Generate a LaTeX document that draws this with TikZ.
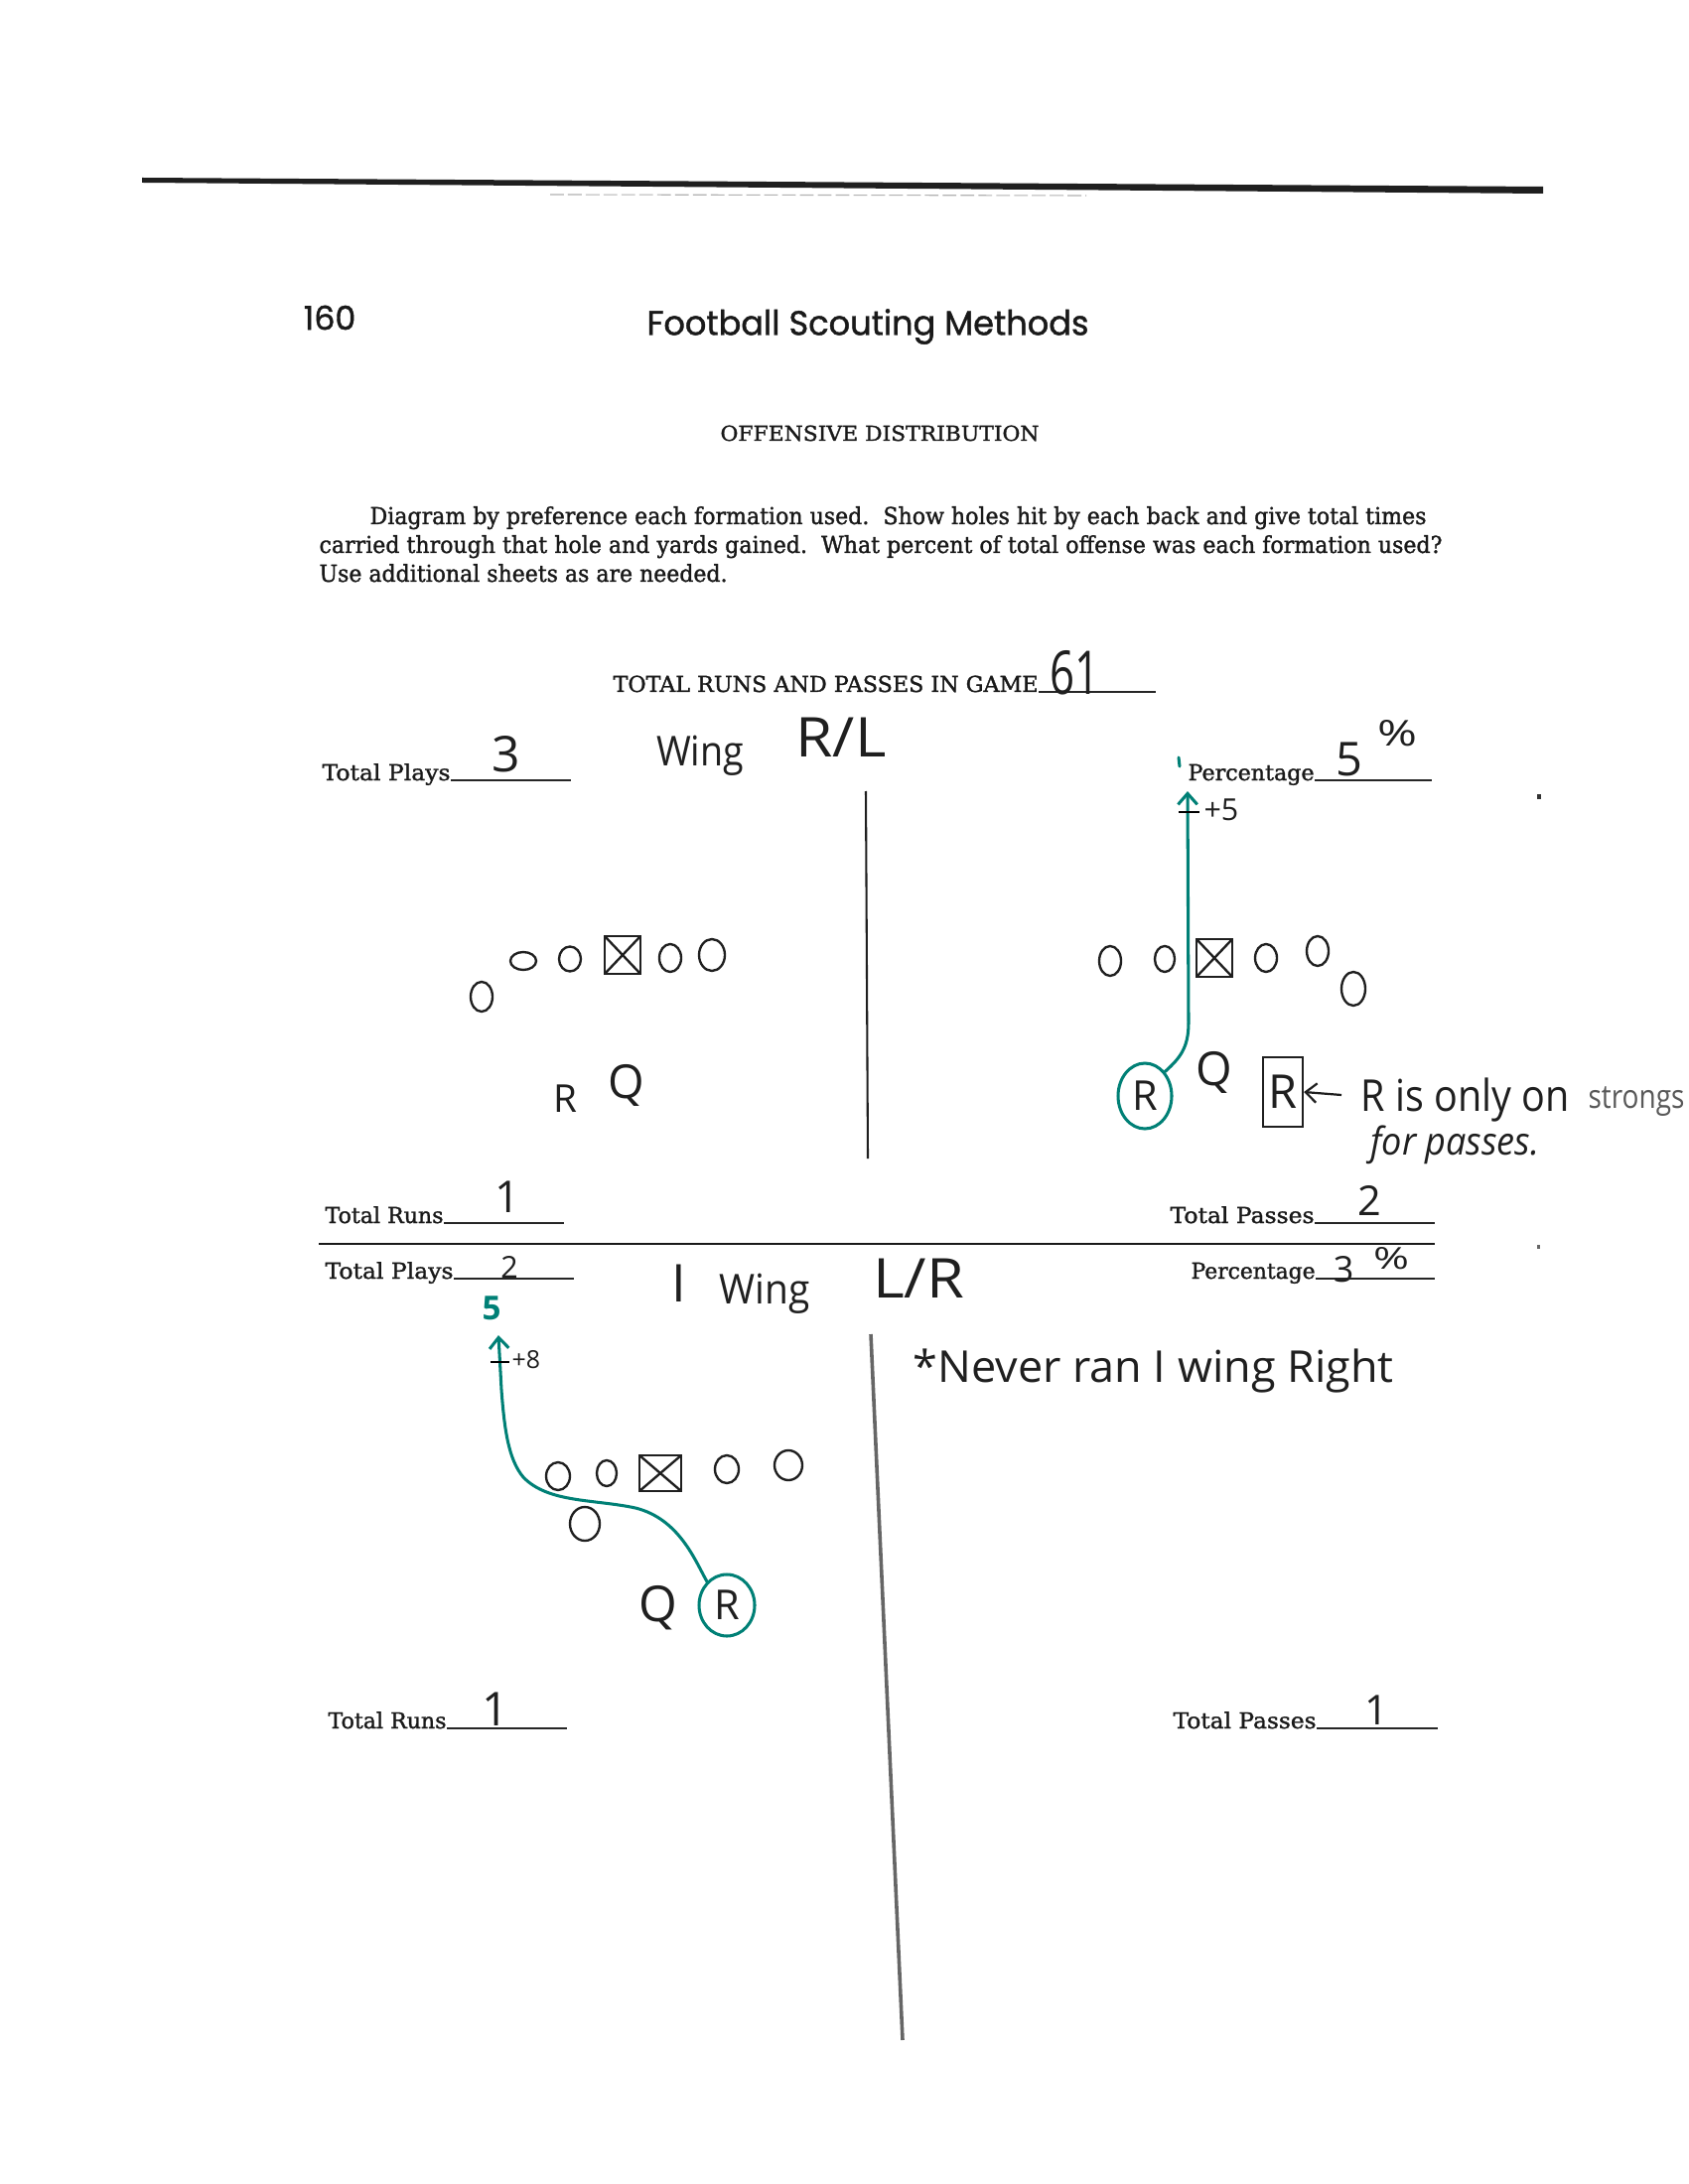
\documentclass[tikz,border=0pt]{standalone}
\usepackage{fontspec}
\usepackage{graphicx}
\usetikzlibrary{shapes.geometric,arrows.meta}
\setmainfont[FakeBold=1.3]{DejaVu Serif}
\newfontfamily\headfont[FakeBold=1.2]{Poppins}
\newfontfamily\hwfont{Open Sans}
\newlength\pxu \setlength\pxu{0.005in}
\newcommand\fitw[2]{\resizebox{#1\pxu}{\height}{#2}}
\newcommand\fsz[1]{\fontsize{#1}{#1}\selectfont}
\definecolor{teal2}{RGB}{0,128,118}
\definecolor{ink}{gray}{0.12}
\begin{document}
\begin{tikzpicture}[x=0.005in,y=-0.005in,
  pr/.style={inner sep=0pt, text=black!90},
  hw/.style={inner sep=0pt, text=ink},
  pl/.style 2 args={ellipse, draw=ink, line width=0.85pt, inner sep=0pt, minimum width=#1\pxu, minimum height=#2\pxu},
  ctr/.style 2 args={rectangle, draw=ink, line width=0.85pt, inner sep=0pt, minimum width=#1\pxu, minimum height=#2\pxu,
    path picture={\draw[ink, line width=0.85pt] (path picture bounding box.north west) -- (path picture bounding box.south east)
      (path picture bounding box.north east) -- (path picture bounding box.south west);}},
  route/.style={draw=teal2, line width=1.1pt, line cap=round},
  uline/.style={draw=black!85, line width=0.5pt},
  tip/.style={-{Straight Barb[length=4pt, width=7pt]}}
]
\fill[white] (0,0) rectangle (1700,2200);
\useasboundingbox (0,0) rectangle (1700,2200);
\clip (0,0) rectangle (1700,2200);

% header rule
\fill[black!88] (143,179) -- (1554,188) -- (1554,195) -- (143,184) -- cycle;
\draw[black!30, line width=0.4pt, dash pattern=on 5pt off 1.5pt] (554,196) -- (1094,197);

\node[pr, font=\headfont\fsz{12}] (pnum) at (332,320) {160};
\node[pr, font=\headfont\fsz{12.5}] (title) at (874,329) {\fitw{445}{Football Scouting Methods}};

\node[pr, font=\fsz{7.5}, anchor=base] (hd) at (886,444) {\fitw{321}{OFFENSIVE DISTRIBUTION}};

\node[pr, font=\fsz{8.5}, anchor=base west] (p1) at (372,528) {\fitw{1064}{Diagram by preference each formation used.\ \ Show holes hit by each back and give total times}};
\node[pr, font=\fsz{8.5}, anchor=base west] (p2) at (321,557) {\fitw{1131}{carried through that hole and yards gained.\ \ What percent of total offense was each formation used?}};
\node[pr, font=\fsz{8.5}, anchor=base west] (p3) at (321,586) {\fitw{411}{Use additional sheets as are needed.}};

\node[pr, font=\fsz{8}, anchor=base west] (trp) at (617,697) {\fitw{428}{TOTAL RUNS AND PASSES IN GAME}};
\coordinate (trpend) at (1164,697);
\draw[uline] (trp.base east) -- (trpend);
\node[hw, font=\hwfont\fsz{22}] (n61) at (1082,678) {\fitw{50}{61}};

% ---------- upper section ----------
\node[pr, font=\fsz{8}, anchor=base west] (tp1) at (324,786) {\fitw{129}{Total Plays}};
\coordinate (tp1e) at (575,786);
\draw[uline] (tp1.base east) -- (tp1e);
\node[hw, font=\hwfont\fsz{18}] (tp1v) at (510,760) {3};
\node[hw, font=\hwfont\fsz{15}] (wing1) at (705,761) {\fitw{88}{Wing}};
\node[hw, font=\hwfont\fsz{20}] (rl1) at (847,743) {\fitw{91}{R/L}};

\node[pr, font=\fsz{8}, anchor=base west] (pc1) at (1196,786) {\fitw{127}{Percentage}};
\coordinate (pc1e) at (1442,786);
\draw[uline] (pc1.base east) -- (pc1e);
\node[hw, font=\hwfont\fsz{17}] (pc1v) at (1359,765) {5};
\node[hw, font=\hwfont\fsz{13}] (pc1p) at (1407,739) {\fitw{40}{\%}};
\draw[teal2, line width=1.1pt, line cap=round] (1187,763) -- (1188,772);

\draw[ink, line width=0.75pt] (872,797) -- (874,1167);

% upper-left formation
\node[pl={22}{30}] (ula) at (485,1004) {};
\node[pl={26}{18}] (ulb) at (527,968) {};
\node[pl={22}{25}] (ulc) at (574,966) {};
\node[ctr={36}{38}] (ulx) at (627,962) {};
\node[pl={22}{28}] (uld) at (675,965) {};
\node[pl={26}{32}] (ule) at (717,962) {};
\node[hw, font=\hwfont\fsz{14}] (ulr) at (569,1107) {R};
\node[hw, font=\hwfont\fsz{17}] (ulq) at (631,1093) {Q};

% upper-right formation
\node[pl={22}{30}] (ura) at (1118,968) {};
\node[pl={20}{26}] (urb) at (1173,966) {};
\node[ctr={36}{38}] (urx) at (1223,965) {};
\node[pl={22}{28}] (urd) at (1275,965) {};
\node[pl={22}{30}] (ure) at (1327,958) {};
\node[pl={24}{34}] (urf) at (1363,996) {};
\node[hw, font=\hwfont\fsz{17}] (urq) at (1223,1080) {Q};
\node[pl={54}{66}, draw=teal2, line width=1.1pt, text=ink, font=\hwfont\fsz{15}] (urR) at (1153,1104) {R};
\node[draw=ink, line width=0.85pt, minimum width=40\pxu, minimum height=70\pxu, inner sep=0pt, text=ink, font=\hwfont\fsz{17}] (urbox) at (1292,1100) {R};
\coordinate (urtip) at (1196,797);
\draw[route, tip] (urR.north east) .. controls (1188,1066) and (1197,1056) .. (1197,1030) -- (urtip);
\draw[black, line width=0.9pt] (1187,818) -- (1208,818);
\node[hw, font=\hwfont\fsz{11}, anchor=west] (plus5) at (1212,816) {+5};
\coordinate (notearr) at (1351,1103);
\draw[ink, line width=0.8pt, tip] (notearr) -- (urbox.east);
\node[hw, font=\hwfont\fsz{16}, anchor=west] (note1) at (1370,1108) {\fitw{210}{R is only on}};
\node[hw, font=\hwfont\fsz{12}, anchor=west, text=black!65] (note2) at (1599,1110) {\fitw{97}{strongs}};
\node[hw, font=\hwfont\itshape\fsz{14}, anchor=west] (note3) at (1380,1153) {\fitw{170}{for passes.}};

% totals upper
\node[pr, font=\fsz{8}, anchor=base west] (tr1) at (327,1232) {\fitw{119}{Total Runs}};
\coordinate (tr1e) at (568,1232);
\draw[uline] (tr1.base east) -- (tr1e);
\node[hw, font=\hwfont\fsz{16}] (tr1v) at (511,1206) {1};
\node[pr, font=\fsz{8}, anchor=base west] (ts1) at (1178,1232) {\fitw{145}{Total Passes}};
\coordinate (ts1e) at (1445,1232);
\draw[uline] (ts1.base east) -- (ts1e);
\node[hw, font=\hwfont\fsz{15}] (ts1v) at (1379,1209) {2};

\draw[black!90, line width=0.8pt] (321,1253) -- (1445,1253);

% ---------- lower section ----------
\node[pr, font=\fsz{8}, anchor=base west] (tp2) at (327,1288) {\fitw{129}{Total Plays}};
\coordinate (tp2e) at (578,1288);
\draw[uline] (tp2.base east) -- (tp2e);
\node[hw, font=\hwfont\fsz{11}] (tp2v) at (513,1276) {2};
\node[hw, font=\hwfont\fsz{19}] (iw) at (684,1293) {I};
\node[hw, font=\hwfont\fsz{15}] (wing2) at (770,1303) {\fitw{91}{Wing}};
\node[hw, font=\hwfont\fsz{20}] (lr2) at (925,1288) {\fitw{92}{L/R}};
\node[pr, font=\fsz{8}, anchor=base west] (pc2) at (1199,1288) {\fitw{125}{Percentage}};
\coordinate (pc2e) at (1445,1288);
\draw[uline] (pc2.base east) -- (pc2e);
\node[hw, font=\hwfont\fsz{13}] (pc2v) at (1353,1279) {3};
\node[hw, font=\hwfont\fsz{11}] (pc2p) at (1401,1268) {\fitw{36}{\%}};

\draw[black!60, line width=1.3pt] (877,1344) -- (909,2055);

\node[hw, font=\hwfont\fsz{16}, anchor=west] (never) at (919,1381) {\fitw{484}{*Never ran I wing Right}};

% lower-left formation
\node[pl={24}{28}] (lla) at (562,1487) {};
\node[pl={20}{26}] (llb) at (611,1484) {};
\node[ctr={42}{36}] (llx) at (665,1484) {};
\node[pl={24}{28}] (lld) at (732,1480) {};
\node[pl={28}{30}] (lle) at (794,1476) {};
\node[pl={30}{34}] (llf) at (589,1535) {};
\node[hw, font=\hwfont\fsz{18}] (llq) at (663,1620) {Q};
\node[pl={56}{62}, draw=teal2, line width=1.1pt, text=ink, font=\hwfont\fsz{15}] (llR) at (732,1617) {R};
\coordinate (lltip) at (502,1345);
\draw[route, tip] (llR.130) .. controls (700,1572) and (684,1530) .. (640,1519)
  .. controls (598,1510) and (552,1514) .. (527,1488)
  .. controls (512,1470) and (508,1440) .. (505,1400) -- (lltip);
\draw[black, line width=0.9pt] (494,1372) -- (513,1372);
\node[hw, font=\hwfont\fsz{9}, anchor=west] (plus8) at (515,1370) {+8};
\node[font=\hwfont\bfseries\fsz{12}, text=teal2, inner sep=0pt] (five) at (495,1318) {5};

% bottom totals
\node[pr, font=\fsz{8}, anchor=base west] (tr2) at (330,1741) {\fitw{119}{Total Runs}};
\coordinate (tr2e) at (571,1741);
\draw[uline] (tr2.base east) -- (tr2e);
\node[hw, font=\hwfont\fsz{17}] (tr2v) at (499,1722) {1};
\node[pr, font=\fsz{8}, anchor=base west] (ts2) at (1181,1741) {\fitw{144}{Total Passes}};
\coordinate (ts2e) at (1448,1741);
\draw[uline] (ts2.base east) -- (ts2e);
\node[hw, font=\hwfont\fsz{15}] (ts2v) at (1386,1723) {1};

% scan specks
\fill[black!80] (1548,800) rectangle (1552,805);
\fill[black!60] (1548,1254) rectangle (1551,1258);
\end{tikzpicture}
\end{document}
